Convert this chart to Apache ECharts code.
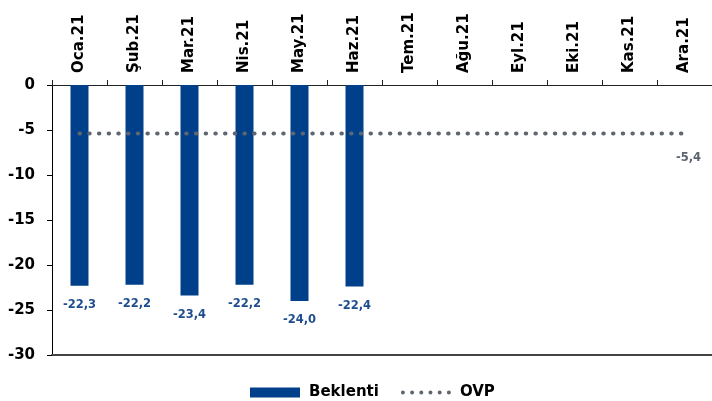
<!DOCTYPE html>
<html>
<head>
<meta charset="utf-8">
<script src="https://cdn.jsdelivr.net/npm/echarts@6/dist/echarts.min.js"></script>
<style>html,body{margin:0;padding:0;background:#fff}#c{width:712px;height:401px}</style>
</head>
<body>
<div id="c"></div>
<script>
var categories = ['Oca.21','Şub.21','Mar.21','Nis.21','May.21','Haz.21','Tem.21','Ağu.21','Eyl.21','Eki.21','Kas.21','Ara.21'];
var beklenti = [-22.3, -22.2, -23.4, -22.2, -24.0, -22.4];
var ovp = [-5.4, -5.4, -5.4, -5.4, -5.4, -5.4, -5.4, -5.4, -5.4, -5.4, -5.4, -5.4];
var yTicks = {min: -30, max: 0, interval: 5};

var FONT = '"DejaVu Sans", Arial, sans-serif';
function fmt(v){ return v.toFixed(1).replace('.', ','); }

// legend icon: six dots
var dotPath = 'path://M0 0L0.01 0M50 10L49.99 10';
for (var i = 0; i < 6; i++) {
  var cx = 2 + i * 9.2;
  dotPath += 'M' + (cx - 2) + ' 5a2 2 0 1 0 4 0a2 2 0 1 0 -4 0Z';
}

var ovpData = ovp.map(function(v, i){
  var d = {value: v};
  if (i === ovp.length - 1) {
    d.label = {show: true, position: 'bottom', distance: 16, offset: [4, 2], color: '#5b6470', fontWeight: 'bold', fontSize: 11.5, fontFamily: FONT, formatter: function(p){ return fmt(p.value); }};
  }
  return d;
});

var chart = echarts.init(document.getElementById('c'), null, {renderer: 'canvas'});
chart.setOption({
  animation: false,
  textStyle: {fontFamily: FONT},
  grid: {left: 52, right: -7, top: 85, bottom: 46, containLabel: false},
  legend: {
    bottom: -4, left: 245, itemWidth: 50, itemHeight: 10, itemGap: 22,
    textStyle: {fontWeight: 'bold', fontSize: 15, color: '#000', fontFamily: FONT, padding: [0, 0, 0, 4]},
    data: [{name: 'Beklenti', icon: 'rect'}, {name: 'OVP', icon: dotPath}]
  },
  xAxis: [{
    type: 'category', data: categories, position: 'top',
    axisLine: {show: true, lineStyle: {color: '#222', width: 1}},
    axisTick: {show: true, length: 5, lineStyle: {color: '#222'}},
    axisLabel: {rotate: 90, margin: 12, fontWeight: 'bold', fontSize: 15, color: '#000', interval: 0, fontFamily: FONT}
  }, {
    type: 'category', data: categories, position: 'bottom',
    axisLine: {show: true, lineStyle: {color: '#444', width: 2}},
    axisTick: {show: false}, axisLabel: {show: false}
  }],
  yAxis: {
    type: 'value', min: yTicks.min, max: yTicks.max, interval: yTicks.interval,
    splitLine: {show: false},
    axisLine: {show: true, lineStyle: {color: '#000', width: 1}},
    axisTick: {show: true, length: 5, lineStyle: {color: '#000'}},
    axisLabel: {fontWeight: 'bold', fontSize: 15, color: '#000', margin: 17, fontFamily: FONT}
  },
  series: [{
    name: 'Beklenti', type: 'bar', data: beklenti, barWidth: 18, xAxisIndex: 0,
    itemStyle: {color: '#00408a'},
    label: {show: true, position: 'bottom', distance: 13, color: '#1f4e8e', fontWeight: 'bold', fontSize: 11.5, fontFamily: FONT, formatter: function(p){ return fmt(p.value); }}
  }, {
    name: 'OVP', type: 'line', data: ovpData, xAxisIndex: 0, z: 5,
    symbol: 'circle', symbolSize: 0.1, showSymbol: true, itemStyle: {color: '#5f6670'},
    lineStyle: {color: '#5f6670', width: 4, type: [0.5, 9.2], cap: 'round'}
  }]
});
</script>
</body>
</html>
